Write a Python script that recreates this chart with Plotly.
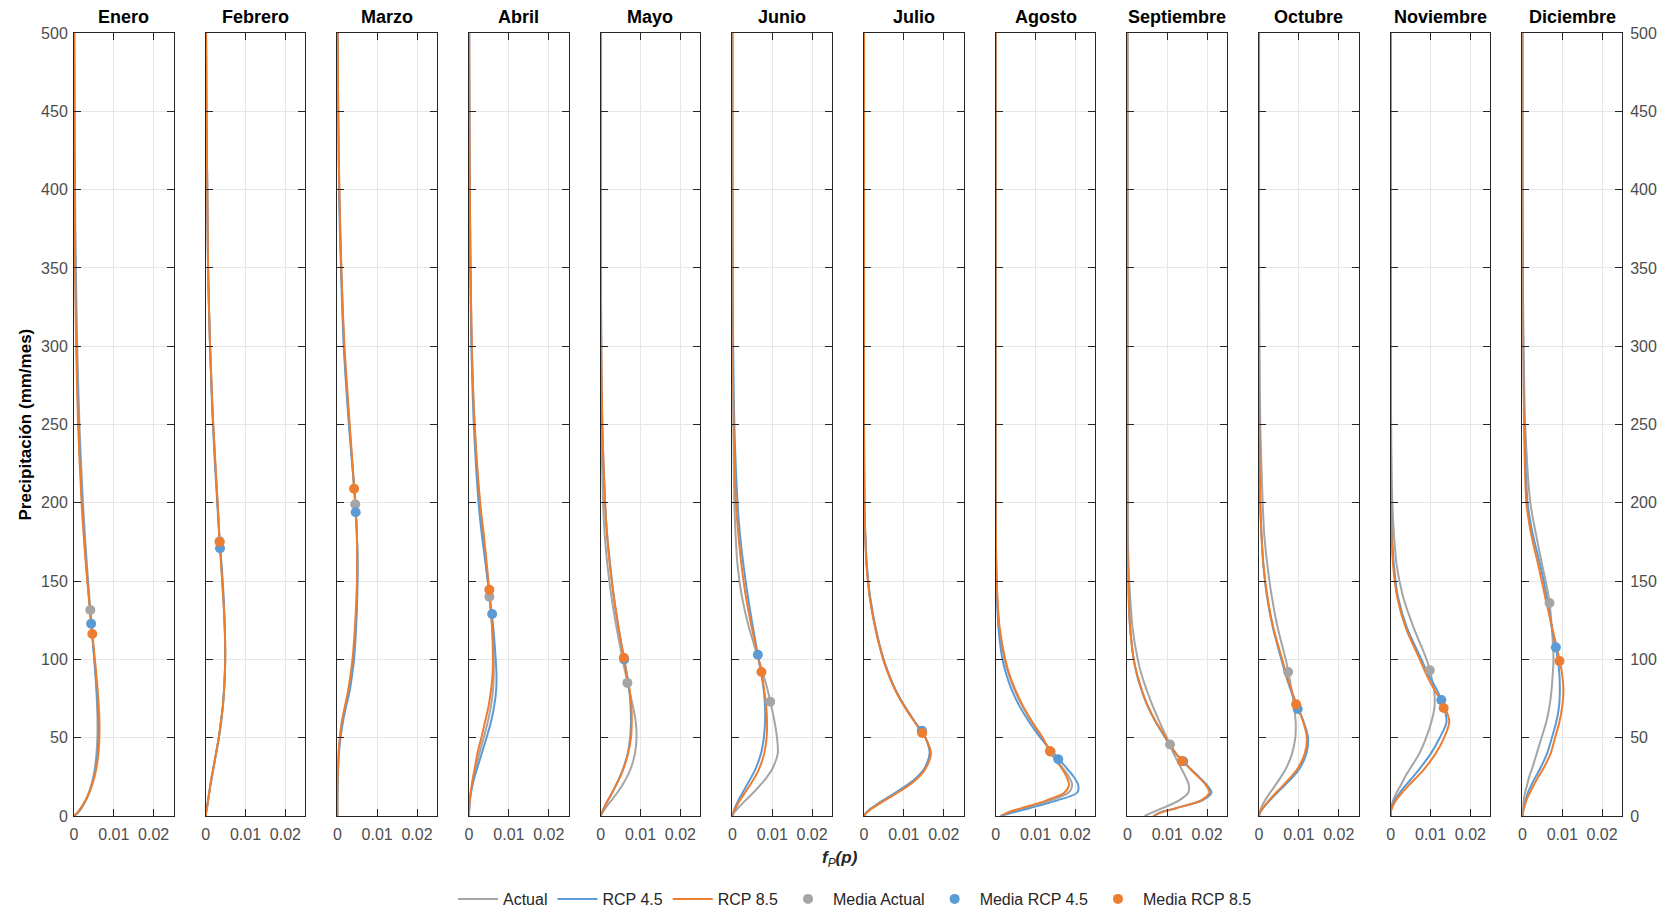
import plotly.graph_objects as go
from plotly.subplots import make_subplots

months = ["Enero", "Febrero", "Marzo", "Abril", "Mayo", "Junio", "Julio",
          "Agosto", "Septiembre", "Octubre", "Noviembre", "Diciembre"]

# precipitation levels (mm/mes) at which the densities were read
precip = [0, 2, 5, 10, 15, 20, 25, 30, 40, 50, 60, 70, 80, 90, 100,
          120, 140, 160, 180, 200, 250, 300, 350, 400, 450, 500]

# density f_P(p) — "Actual"
fp_actual = [
    [0, 0.00095, 0.00184, 0.00293, 0.00374, 0.00435, 0.00483, 0.00519, 0.00565, 0.00586, 0.0059, 0.0058, 0.00561, 0.00538, 0.00509, 0.00448, 0.00385, 0.00326, 0.00273, 0.00226, 0.00137, 0.00081, 0.00046, 0.00026, 0.00015, 0.00008],
    [0, 0.0001, 0.0003, 0.0006, 0.0009, 0.0012, 0.0015, 0.0019, 0.0026, 0.0033, 0.0038, 0.0043, 0.0046, 0.0048, 0.0049, 0.0048, 0.0044, 0.0039, 0.0034, 0.0030, 0.0019, 0.0011, 0.0006, 0.0004, 0.0002, 0.0001],
    [0, 0, 0, 0, 0.00002, 0.00006, 0.00011, 0.00017, 0.0003, 0.0007, 0.0012, 0.0020, 0.0029, 0.0035, 0.0040, 0.0046, 0.0049, 0.0050, 0.0049, 0.0045, 0.0030, 0.0017, 0.0010, 0.0005, 0.0002, 0.0001],
    [0, 0, 0.00005, 0.0002, 0.00045, 0.0008, 0.0012, 0.0017, 0.0026, 0.0037, 0.0047, 0.0055, 0.0060, 0.0062, 0.0062, 0.0058, 0.0051, 0.0043, 0.0035, 0.0027, 0.0014, 0.0007, 0.0004, 0.0002, 0.0001, 0.00004],
    [0, 0.0004, 0.0012, 0.0027, 0.0042, 0.0055, 0.0066, 0.0075, 0.0086, 0.0090, 0.0088, 0.0081, 0.0072, 0.0063, 0.0055, 0.0040, 0.0027, 0.0017, 0.0010, 0.0006, 0.00015, 0.00003, 0, 0, 0, 0],
    [0, 0.0004, 0.0014, 0.0033, 0.0053, 0.0071, 0.0087, 0.0100, 0.0114, 0.0112, 0.0106, 0.0098, 0.0089, 0.0078, 0.0066, 0.0042, 0.0024, 0.0013, 0.0008, 0.0005, 0.0002, 0.00005, 0, 0, 0, 0],
    [0, 0.0005, 0.0019, 0.0048, 0.0080, 0.0110, 0.0134, 0.0151, 0.0165, 0.0154, 0.0128, 0.0102, 0.0080, 0.0063, 0.0049, 0.0029, 0.0015, 0.0007, 0.0003, 0.0001, 0, 0, 0, 0, 0, 0],
    [0.0013, 0.0030, 0.0070, 0.0138, 0.0183, 0.0192, 0.0184, 0.0170, 0.0140, 0.0115, 0.0090, 0.0067, 0.0048, 0.0033, 0.0022, 0.0009, 0.0004, 0.00015, 0.00005, 0, 0, 0, 0, 0, 0, 0],
    [0.0043, 0.0060, 0.0088, 0.0130, 0.0153, 0.0154, 0.0146, 0.0136, 0.0116, 0.0099, 0.0081, 0.0064, 0.0049, 0.0036, 0.0026, 0.0013, 0.0007, 0.0003, 0.0001, 0.00005, 0, 0, 0, 0, 0, 0],
    [0, 0.0001, 0.0005, 0.0015, 0.0028, 0.0042, 0.0055, 0.0067, 0.0083, 0.0091, 0.0092, 0.0088, 0.0082, 0.0075, 0.0067, 0.0047, 0.0032, 0.0021, 0.0013, 0.0009, 0.0003, 0.0001, 0, 0, 0, 0],
    [0, 0, 0.0001, 0.0006, 0.0015, 0.0026, 0.0036, 0.0048, 0.0072, 0.0089, 0.0102, 0.0110, 0.0109, 0.0101, 0.0090, 0.0058, 0.0031, 0.0015, 0.0008, 0.0004, 0.0001, 0, 0, 0, 0, 0],
    [0, 0, 0.0001, 0.0003, 0.0007, 0.0012, 0.0017, 0.0024, 0.0036, 0.0048, 0.0060, 0.0068, 0.0073, 0.0076, 0.0078, 0.0074, 0.0066, 0.0050, 0.0034, 0.0020, 0.0007, 0.0003, 0.0001, 0.00004, 0, 0],
]

# density f_P(p) — "RCP 4.5"
fp_rcp45 = [
    [0, 0.00091, 0.00183, 0.00298, 0.00384, 0.0045, 0.00501, 0.00539, 0.00587, 0.0061, 0.0061, 0.00594, 0.00572, 0.00543, 0.0051, 0.0044, 0.00372, 0.00309, 0.00253, 0.00205, 0.00117, 0.00066, 0.00036, 0.00019, 0.0001, 0.00005],
    [0, 0.0001, 0.0003, 0.0006, 0.0009, 0.0012, 0.0016, 0.0019, 0.0026, 0.0033, 0.0039, 0.0043, 0.0046, 0.0048, 0.0049, 0.0048, 0.0045, 0.0040, 0.0034, 0.0029, 0.0018, 0.0011, 0.0006, 0.0004, 0.0002, 0.0001],
    [0, 0, 0, 0, 0.00003, 0.00007, 0.00013, 0.0002, 0.0004, 0.0008, 0.0014, 0.0022, 0.0031, 0.0037, 0.0042, 0.0047, 0.0050, 0.0051, 0.0049, 0.0045, 0.0029, 0.0016, 0.0009, 0.0004, 0.0002, 0.0001],
    [0, 0, 0.00005, 0.0002, 0.0005, 0.0009, 0.0014, 0.0020, 0.0032, 0.0044, 0.0055, 0.0063, 0.0068, 0.0069, 0.0067, 0.0061, 0.0052, 0.0042, 0.0032, 0.0024, 0.0012, 0.0006, 0.0003, 0.00015, 0.00007, 0.00003],
    [0, 0.0003, 0.0008, 0.0018, 0.0029, 0.0039, 0.0048, 0.0056, 0.0068, 0.0074, 0.0076, 0.0075, 0.0072, 0.0066, 0.0059, 0.0045, 0.0033, 0.0024, 0.0016, 0.0011, 0.0004, 0.00015, 0.00005, 0.00002, 0, 0],
    [0, 0.0002, 0.0006, 0.0015, 0.0026, 0.0037, 0.0048, 0.0058, 0.0072, 0.0079, 0.0082, 0.0082, 0.0079, 0.0073, 0.0066, 0.0052, 0.0039, 0.0028, 0.0019, 0.0013, 0.0005, 0.0002, 0.00007, 0.00002, 0, 0],
    [0, 0.0005, 0.0019, 0.0048, 0.0080, 0.0110, 0.0134, 0.0151, 0.0165, 0.0154, 0.0128, 0.0102, 0.0080, 0.0063, 0.0049, 0.0029, 0.0015, 0.0007, 0.0003, 0.0001, 0, 0, 0, 0, 0, 0],
    [0.0012, 0.0040, 0.0085, 0.0155, 0.0205, 0.0207, 0.0196, 0.0180, 0.0146, 0.0112, 0.0084, 0.0060, 0.0041, 0.0027, 0.0017, 0.0007, 0.0003, 0.0001, 0, 0, 0, 0, 0, 0, 0, 0],
    [0.0065, 0.0080, 0.0122, 0.0188, 0.0211, 0.0199, 0.0180, 0.0159, 0.0121, 0.0095, 0.0071, 0.0051, 0.0036, 0.0024, 0.0016, 0.0007, 0.0003, 0.0001, 0, 0, 0, 0, 0, 0, 0, 0],
    [0, 0.0002, 0.0010, 0.0027, 0.0046, 0.0066, 0.0085, 0.0101, 0.0119, 0.0123, 0.0112, 0.0096, 0.0080, 0.0067, 0.0056, 0.0035, 0.0020, 0.0011, 0.0006, 0.0003, 0.00005, 0, 0, 0, 0, 0],
    [0, 0, 0.0002, 0.0010, 0.0023, 0.0039, 0.0056, 0.0072, 0.0101, 0.0123, 0.0140, 0.0133, 0.0117, 0.0095, 0.0077, 0.0041, 0.0018, 0.0008, 0.0003, 0.0001, 0, 0, 0, 0, 0, 0],
    [0, 0.0001, 0.0003, 0.0008, 0.0014, 0.0023, 0.0033, 0.0044, 0.0062, 0.0074, 0.0085, 0.0092, 0.0094, 0.0093, 0.0089, 0.0074, 0.0061, 0.0045, 0.0026, 0.0013, 0.0005, 0.0002, 0.00007, 0, 0, 0],
]

# density f_P(p) — "RCP 8.5"
fp_rcp85 = [
    [0, 0.00077, 0.00168, 0.00288, 0.00383, 0.00457, 0.00514, 0.00558, 0.00614, 0.00637, 0.00638, 0.00622, 0.00595, 0.00562, 0.00525, 0.00446, 0.00369, 0.003, 0.00241, 0.0019, 0.00102, 0.00054, 0.00027, 0.00013, 0.00007, 0.00003],
    [0, 0.0001, 0.0003, 0.0006, 0.0009, 0.0012, 0.0015, 0.0019, 0.0026, 0.0033, 0.0038, 0.0043, 0.0046, 0.0048, 0.0049, 0.0048, 0.0044, 0.0039, 0.0034, 0.0030, 0.0019, 0.0011, 0.0006, 0.0004, 0.0002, 0.0001],
    [0, 0, 0, 0, 0.00002, 0.00005, 0.0001, 0.00015, 0.0003, 0.0006, 0.0011, 0.0019, 0.0027, 0.0033, 0.0038, 0.0044, 0.0048, 0.0050, 0.0049, 0.0045, 0.0031, 0.0018, 0.0010, 0.0005, 0.0002, 0.0001],
    [0, 0, 0.00005, 0.0002, 0.0004, 0.0007, 0.0010, 0.0014, 0.0021, 0.0031, 0.0040, 0.0049, 0.0055, 0.0059, 0.0060, 0.0058, 0.0052, 0.0045, 0.0037, 0.0028, 0.0014, 0.0007, 0.0004, 0.0002, 0.0001, 0.00004],
    [0, 0.0003, 0.0008, 0.0018, 0.0029, 0.0039, 0.0049, 0.0057, 0.0069, 0.0076, 0.0078, 0.0077, 0.0073, 0.0066, 0.0059, 0.0045, 0.0033, 0.0023, 0.0016, 0.0011, 0.0004, 0.00015, 0.00005, 0.00002, 0, 0],
    [0, 0.0002, 0.0008, 0.0019, 0.0032, 0.0045, 0.0057, 0.0067, 0.0080, 0.0086, 0.0087, 0.0085, 0.0080, 0.0074, 0.0066, 0.0049, 0.0034, 0.0023, 0.0015, 0.0009, 0.0003, 0.0001, 0.00003, 0, 0, 0],
    [0, 0.0006, 0.0021, 0.0052, 0.0085, 0.0115, 0.0138, 0.0154, 0.0168, 0.0154, 0.0127, 0.0101, 0.0079, 0.0062, 0.0048, 0.0028, 0.0014, 0.0006, 0.0003, 0.0001, 0, 0, 0, 0, 0, 0],
    [0.0015, 0.0028, 0.0065, 0.0128, 0.0173, 0.0184, 0.0178, 0.0167, 0.0139, 0.0118, 0.0092, 0.0069, 0.0050, 0.0035, 0.0024, 0.0010, 0.0004, 0.00015, 0.00005, 0, 0, 0, 0, 0, 0, 0],
    [0.0067, 0.0082, 0.0122, 0.0185, 0.0206, 0.0196, 0.0178, 0.0158, 0.0122, 0.0097, 0.0072, 0.0052, 0.0037, 0.0025, 0.0016, 0.0007, 0.0003, 0.0001, 0, 0, 0, 0, 0, 0, 0, 0],
    [0, 0.0002, 0.0009, 0.0025, 0.0043, 0.0062, 0.0080, 0.0096, 0.0115, 0.0120, 0.0111, 0.0096, 0.0082, 0.0069, 0.0058, 0.0036, 0.0021, 0.0011, 0.0006, 0.0003, 0.00005, 0, 0, 0, 0, 0],
    [0, 0, 0.0003, 0.0013, 0.0029, 0.0047, 0.0066, 0.0084, 0.0113, 0.0134, 0.0147, 0.0135, 0.0111, 0.0090, 0.0073, 0.0038, 0.0016, 0.0006, 0.0002, 0.0001, 0, 0, 0, 0, 0, 0],
    [0, 0.0001, 0.0004, 0.0010, 0.0019, 0.0029, 0.0040, 0.0052, 0.0071, 0.0082, 0.0093, 0.0100, 0.0103, 0.0100, 0.0093, 0.0075, 0.0057, 0.0040, 0.0022, 0.0010, 0.0004, 0.00015, 0.00005, 0, 0, 0],
]

# monthly means (mm/mes) and the density at the mean
mean_actual = [131.5, 175.5, 199, 140, 85, 73, 54, 41, 45.7, 92, 93, 136]
mean_rcp45 = [122.8, 171, 194, 129, 100, 103, 54.5, 36.2, 35, 68.3, 74, 107.7]
mean_rcp85 = [116.2, 175, 209, 144.4, 101, 92, 53, 41.5, 35.1, 71.3, 69, 99]
fmean_actual = [0.0041, 0.0035, 0.0045, 0.0051, 0.0067, 0.0095, 0.0146, 0.0138, 0.0107, 0.0073, 0.0098, 0.0068]
fmean_rcp45 = [0.0043, 0.0036, 0.0046, 0.0058, 0.0059, 0.0064, 0.0145, 0.0157, 0.0140, 0.0097, 0.0127, 0.0084]
fmean_rcp85 = [0.0046, 0.0035, 0.0042, 0.0051, 0.0058, 0.0073, 0.0146, 0.0136, 0.0137, 0.0093, 0.0133, 0.0093]

x_tickvals = [0, 0.01, 0.02]
x_ticktext = ["0", "0.01", "0.02"]
y_tickvals = [0, 50, 100, 150, 200, 250, 300, 350, 400, 450, 500]

C_GRAY = "#A5A5A5"
C_BLUE = "#5B9BD5"
C_ORANGE = "#ED7D31"
FONT = "Liberation Sans, Arial, Helvetica, sans-serif"

W, H = 1672, 911
ML, MR, MT, MB = 74, 50, 33, 95
plot_w = W - ML - MR
plot_h = H - MT - MB
panel_w = 99.6 / plot_w
gap = (1 - 12 * panel_w) / 11

fig = make_subplots(rows=1, cols=12, horizontal_spacing=gap)

series = [
    ("Actual", fp_actual, C_GRAY),
    ("RCP 4.5", fp_rcp45, C_BLUE),
    ("RCP 8.5", fp_rcp85, C_ORANGE),
]
means = [
    ("Media Actual", mean_actual, fmean_actual, C_GRAY),
    ("Media RCP 4.5", mean_rcp45, fmean_rcp45, C_BLUE),
    ("Media RCP 8.5", mean_rcp85, fmean_rcp85, C_ORANGE),
]

for i in range(12):
    for name, data, col in series:
        fig.add_trace(go.Scatter(
            x=data[i], y=precip, mode="lines", name=name, legendgroup=name,
            showlegend=(i == 0),
            line=dict(color=col, width=2, shape="spline", smoothing=0.8),
        ), row=1, col=i + 1)
    for name, mv, fv, col in means:
        fig.add_trace(go.Scatter(
            x=[fv[i]], y=[mv[i]], mode="markers", name=name, legendgroup=name,
            showlegend=(i == 0),
            marker=dict(color=col, size=10),
        ), row=1, col=i + 1)

AX = "#262626"
GRID = "#e6e6e6"
for i in range(12):
    fig.update_xaxes(
        range=[0, 0.025], tickvals=x_tickvals, ticktext=x_ticktext,
        ticks="inside", ticklen=7, tickcolor=AX, showline=True, linecolor=AX,
        linewidth=1, mirror="allticks", showgrid=True, gridcolor=GRID,
        zeroline=False, ticklabelstandoff=4,
        tickfont=dict(size=16, color="#4d4d4d", family=FONT),
        row=1, col=i + 1)
    fig.update_yaxes(
        range=[0, 500], tickvals=y_tickvals,
        ticks="inside", ticklen=7, tickcolor=AX, showline=True, linecolor=AX,
        linewidth=1, mirror="allticks", showgrid=True, gridcolor=GRID,
        zeroline=False, showticklabels=(i == 0 or i == 11),
        side=("right" if i == 11 else "left"),
        ticklabelstandoff=(4 if i == 11 else 2),
        tickfont=dict(size=16, color="#4d4d4d", family=FONT),
        row=1, col=i + 1)

annotations = []
for i, m in enumerate(months):
    x0 = i * (panel_w + gap)
    annotations.append(dict(
        text="<b>" + m + "</b>", x=x0 + panel_w / 2, y=1 + (MT - 17) / plot_h,
        xref="paper", yref="paper", xanchor="center", yanchor="middle",
        showarrow=False, font=dict(size=18, color="black", family=FONT)))

annotations.append(dict(
    text="<b>Precipitación (mm/mes)</b>", x=(25 - ML) / plot_w, y=0.5,
    xref="paper", yref="paper", xanchor="center", yanchor="middle",
    textangle=-90, showarrow=False,
    font=dict(size=17, color="black", family=FONT)))

annotations.append(dict(
    text="<b><i>f</i></b><sub><i>P</i></sub><b><i>(p)</i></b>",
    x=(840 - ML) / plot_w, y=-(859 - (H - MB)) / plot_h,
    xref="paper", yref="paper", xanchor="center", yanchor="middle",
    showarrow=False, font=dict(size=17, color="#262626", family=FONT)))

fig.update_layout(
    width=W, height=H,
    margin=dict(l=ML, r=MR, t=MT, b=MB, autoexpand=False),
    paper_bgcolor="white", plot_bgcolor="white",
    font=dict(family=FONT, size=16, color="#262626"),
    annotations=annotations,
    showlegend=True,
    legend=dict(orientation="h", x=(855 - ML) / plot_w, xanchor="center",
                y=-(899 - (H - MB)) / plot_h, yanchor="middle",
                itemwidth=40,
                font=dict(size=16, color="#262626", family=FONT),
                bgcolor="rgba(0,0,0,0)", traceorder="normal"),
)

fig.write_html("out.html", config={"displayModeBar": False},
               post_script="document.body.style.margin='0';")
